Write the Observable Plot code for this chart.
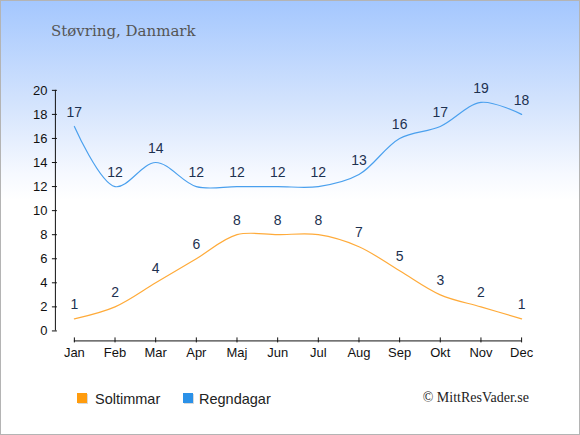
<!DOCTYPE html>
<html>
<head>
<meta charset="utf-8">
<script src="https://cdn.jsdelivr.net/npm/d3@7"></script>
<script src="https://cdn.jsdelivr.net/npm/@observablehq/plot@0.6"></script>
<style>
  html, body { margin: 0; padding: 0; background: #fff; }
  #wrap {
    position: relative; width: 580px; height: 435px; box-sizing: border-box;
    border: 1px solid #b4b4b4;
    background: linear-gradient(to bottom, #a4c7fe 0%, #d6e5fd 25%, #f6f9ff 40%, #ffffff 46%, #ffffff 100%);
    overflow: hidden;
  }
  #chart { position: absolute; left: -1px; top: -1px; }
  #title {
    position: absolute; left: 50px; top: 21px;
    font-family: "DejaVu Serif", serif; font-size: 15px; color: #555;
    white-space: nowrap;
  }
  .leg { position: absolute; top: 390px; font-family: "Liberation Sans", Arial, sans-serif;
    font-size: 14.5px; color: #222; white-space: nowrap; line-height: 16px; }
  .sw { position: absolute; width: 10px; height: 10px; top: 392px;
    box-shadow: 1px 1px 0 rgba(0,0,0,0.15); }
  #copy { position: absolute; right: 50px; top: 389px;
    font-family: "Liberation Serif", serif; font-size: 14px; color: #222; white-space: nowrap; }
</style>
</head>
<body>
<div id="wrap">
  <div id="title"></div>
  <div id="chart"></div>
  <div class="sw" style="left:76px; background:#ff9c0e;"></div>
  <div class="leg" id="leg1" style="left:94px;"></div>
  <div class="sw" style="left:182px; background:#2b91e8;"></div>
  <div class="leg" id="leg2" style="left:198px;"></div>
  <div id="copy"></div>
</div>
<script>
const title = "Støvring, Danmark";
const months = ["Jan","Feb","Mar","Apr","Maj","Jun","Jul","Aug","Sep","Okt","Nov","Dec"];
const sunHours = [1,2,4,6,8,8,8,7,5,3,2,1];
const rainDays = [17,12,14,12,12,12,12,13,16,17,19,18];
const yTicks = [0,2,4,6,8,10,12,14,16,18,20];
const seriesNames = ["Soltimmar","Regndagar"];
const credit = "© MittResVader.se";

document.getElementById("title").textContent = title;
document.getElementById("leg1").textContent = seriesNames[0];
document.getElementById("leg2").textContent = seriesNames[1];
document.getElementById("copy").textContent = credit;

const sun = months.map((m,i) => ({i, m, v: sunHours[i]}));
const rain = months.map((m,i) => ({i, m, v: rainDays[i]}));
const idx = months.map((m,i) => i);

const labelColor = "#1d3150";
const chart = Plot.plot({
  width: 580, height: 435,
  marginLeft: 74, marginRight: 58, marginTop: 90, marginBottom: 104,
  style: {background: "transparent", fontFamily: "Liberation Sans, Arial, sans-serif", fontSize: "13px", color: "#111"},
  x: {type: "linear", domain: [0, 11], axis: null},
  y: {type: "linear", domain: [0, 20], axis: null},
  marks: [
    // y axis
    Plot.ruleX([0], {y1: 0, y2: 20, dx: -19, stroke: "#111", strokeWidth: 1}),
    Plot.tickY(yTicks, {y: d => d, dx: -19, insetLeft: -3, insetRight: 446, stroke: "#111"}),
    Plot.text(yTicks, {y: d => d, frameAnchor: "left", textAnchor: "end", dx: -27, text: d => String(d), fill: "#111", fontSize: 13}),
    // x axis
    Plot.ruleY([0], {x1: 0, x2: 11, dy: 10, stroke: "#111", strokeWidth: 1}),
    Plot.tickX(idx, {x: d => d, dy: 10, insetTop: 238, insetBottom: -2, stroke: "#111"}),
    Plot.text(idx, {x: d => d, frameAnchor: "bottom", dy: 22, lineAnchor: "middle", text: d => months[d], fill: "#111", fontSize: 13}),
    // lines
    Plot.line(rain, {x: "i", y: "v", curve: "catmull-rom", stroke: "#4aa0ee", strokeWidth: 1.2}),
    Plot.line(sun, {x: "i", y: "v", curve: "catmull-rom", stroke: "#ffab3a", strokeWidth: 1.2}),
    // data labels
    Plot.text(rain, {x: "i", y: "v", text: d => String(d.v), dy: -14, fill: labelColor, fontSize: 14}),
    Plot.text(sun, {x: "i", y: "v", text: d => String(d.v), dy: -14, fill: labelColor, fontSize: 14})
  ]
});
document.getElementById("chart").appendChild(chart);
</script>
</body>
</html>
